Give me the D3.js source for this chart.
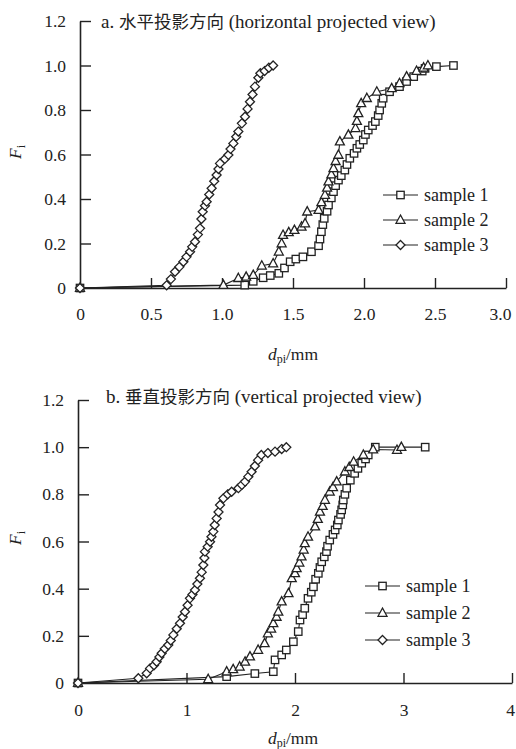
<!DOCTYPE html>
<html><head><meta charset="utf-8">
<script src="https://cdn.jsdelivr.net/npm/d3@7"></script>
<style>
body{margin:0;background:#fff;}
svg text{font-family:"Liberation Serif","Tinos","Times New Roman",Times,serif,"Noto Sans CJK SC";fill:#222;}
</style></head>
<body><svg id="c" width="516" height="749"></svg>
<script>
// ---------- data ----------
const seriesNames = ["sample 1", "sample 2", "sample 3"];
const markerTypes = ["square", "triangle", "diamond"];

const topTitleParts = ["a. ", "水平投影方向", " (horizontal projected view)"];
const botTitleParts = ["b. ", "垂直投影方向", " (vertical projected view)"];

const topXTicks = [0, 0.5, 1.0, 1.5, 2.0, 2.5, 3.0];
const topXTickLabels = ["0", "0.5", "1.0", "1.5", "2.0", "2.5", "3.0"];
const botXTicks = [0, 1, 2, 3, 4];
const botXTickLabels = ["0", "1", "2", "3", "4"];
const yTicks = [0, 0.2, 0.4, 0.6, 0.8, 1.0, 1.2];
const yTickLabels = ["0", "0.2", "0.4", "0.6", "0.8", "1.0", "1.2"];

// panel a (horizontal projected view)
const topSample1 = [[0,0],[1.16,0.013],[1.22,0.03],[1.29,0.046],[1.34,0.056],[1.40,0.066],[1.44,0.09],[1.48,0.118],[1.52,0.13],[1.57,0.14],[1.63,0.163],[1.68,0.19],[1.69,0.22],[1.70,0.253],[1.71,0.285],[1.72,0.313],[1.74,0.345],[1.75,0.373],[1.77,0.405],[1.785,0.433],[1.80,0.46],[1.82,0.485],[1.84,0.505],[1.865,0.53],[1.88,0.555],[1.90,0.583],[1.93,0.605],[1.95,0.628],[1.97,0.645],[1.995,0.665],[2.01,0.69],[2.03,0.71],[2.06,0.73],[2.08,0.748],[2.10,0.775],[2.11,0.80],[2.125,0.83],[2.135,0.853],[2.18,0.882],[2.25,0.905],[2.30,0.928],[2.35,0.95],[2.41,0.975],[2.43,0.987],[2.51,0.995],[2.63,1.0]];
const topSample2 = [[0,0],[1.01,0.013],[1.115,0.044],[1.17,0.05],[1.22,0.058],[1.28,0.10],[1.36,0.11],[1.40,0.163],[1.42,0.20],[1.43,0.238],[1.47,0.25],[1.51,0.26],[1.56,0.275],[1.585,0.29],[1.60,0.343],[1.68,0.35],[1.70,0.385],[1.725,0.418],[1.74,0.45],[1.75,0.478],[1.77,0.51],[1.785,0.538],[1.80,0.57],[1.82,0.598],[1.83,0.658],[1.89,0.688],[1.94,0.718],[1.95,0.75],[1.96,0.785],[1.98,0.83],[2.02,0.853],[2.09,0.882],[2.195,0.897],[2.25,0.92],[2.30,0.95],[2.37,0.975],[2.42,0.99],[2.45,1.0]];
const topSample3 = [[0,0],[0.61,0.012],[0.64,0.04],[0.669,0.073],[0.70,0.095],[0.728,0.118],[0.75,0.14],[0.775,0.163],[0.79,0.185],[0.81,0.208],[0.83,0.24],[0.845,0.268],[0.855,0.31],[0.864,0.343],[0.88,0.37],[0.892,0.388],[0.91,0.42],[0.927,0.448],[0.945,0.48],[0.962,0.508],[0.975,0.535],[0.986,0.56],[1.02,0.58],[1.045,0.598],[1.06,0.625],[1.08,0.65],[1.10,0.68],[1.115,0.703],[1.14,0.74],[1.162,0.77],[1.18,0.805],[1.197,0.837],[1.215,0.87],[1.232,0.905],[1.256,0.945],[1.27,0.965],[1.30,0.975],[1.33,0.99],[1.36,1.0]];

// panel b (vertical projected view)
const botSample1 = [[0,0],[1.37,0.027],[1.63,0.04],[1.80,0.048],[1.816,0.098],[1.877,0.119],[1.92,0.14],[1.985,0.175],[2.03,0.218],[2.046,0.267],[2.07,0.29],[2.09,0.317],[2.12,0.359],[2.15,0.385],[2.17,0.408],[2.19,0.44],[2.215,0.465],[2.23,0.49],[2.246,0.514],[2.27,0.535],[2.29,0.557],[2.30,0.58],[2.32,0.606],[2.35,0.63],[2.37,0.649],[2.39,0.67],[2.40,0.691],[2.42,0.715],[2.43,0.734],[2.44,0.755],[2.445,0.776],[2.46,0.80],[2.476,0.826],[2.51,0.86],[2.55,0.889],[2.58,0.91],[2.615,0.932],[2.65,0.95],[2.675,0.967],[2.74,1.0],[3.20,1.0]];
const botSample2 = [[0,0],[1.20,0.016],[1.37,0.048],[1.43,0.058],[1.49,0.069],[1.54,0.09],[1.585,0.112],[1.66,0.14],[1.72,0.168],[1.75,0.21],[1.78,0.23],[1.80,0.253],[1.83,0.28],[1.846,0.302],[1.877,0.345],[1.94,0.38],[1.97,0.444],[2.00,0.465],[2.015,0.486],[2.04,0.51],[2.06,0.536],[2.08,0.565],[2.09,0.592],[2.12,0.62],[2.185,0.663],[2.21,0.695],[2.23,0.726],[2.255,0.75],[2.276,0.776],[2.32,0.811],[2.35,0.83],[2.384,0.854],[2.46,0.896],[2.50,0.915],[2.54,0.938],[2.63,0.967],[2.72,0.99],[2.94,0.988],[2.98,1.0]];
const botSample3 = [[0,0],[0.556,0.02],[0.633,0.041],[0.664,0.062],[0.70,0.075],[0.725,0.09],[0.75,0.11],[0.771,0.126],[0.80,0.145],[0.832,0.161],[0.855,0.18],[0.879,0.204],[0.91,0.23],[0.94,0.253],[0.965,0.28],[0.986,0.302],[1.01,0.33],[1.032,0.359],[1.055,0.375],[1.078,0.394],[1.10,0.42],[1.124,0.444],[1.14,0.47],[1.155,0.50],[1.165,0.53],[1.17,0.557],[1.195,0.578],[1.217,0.599],[1.23,0.62],[1.247,0.642],[1.26,0.67],[1.278,0.698],[1.295,0.725],[1.309,0.755],[1.34,0.783],[1.38,0.80],[1.416,0.811],[1.478,0.826],[1.51,0.84],[1.54,0.854],[1.57,0.875],[1.60,0.896],[1.63,0.92],[1.66,0.945],[1.69,0.967],[1.75,0.975],[1.816,0.981],[1.877,0.992],[1.92,1.0]];

// ---------- drawing ----------
const svg = d3.select("#c");
const ink = "#222";
const fontSize = 17.5;

function marker(g, type, x, y) {
  if (type === "square") {
    g.append("rect").attr("x", x - 3.7).attr("y", y - 3.7).attr("width", 7.4).attr("height", 7.4)
      .attr("fill", "#fff").attr("stroke", ink).attr("stroke-width", 1.3);
  } else if (type === "triangle") {
    g.append("path").attr("d", `M${x},${y-5}L${x+4.5},${y+3.3}L${x-4.5},${y+3.3}Z`)
      .attr("fill", "#fff").attr("stroke", ink).attr("stroke-width", 1.3);
  } else {
    g.append("path").attr("d", `M${x},${y-4.5}L${x+4.5},${y}L${x},${y+4.5}L${x-4.5},${y}Z`)
      .attr("fill", "#fff").attr("stroke", ink).attr("stroke-width", 1.3);
  }
}

function panel(cfg) {
  const x = d3.scaleLinear().domain(cfg.xDomain).range(cfg.xRange);
  const y = d3.scaleLinear().domain([0, 1.2]).range(cfg.yRange);
  const g = svg.append("g");

  const xAxis = d3.axisBottom(x).tickValues(cfg.xTicks).tickSize(-10)
    .tickFormat((d, i) => cfg.xTickLabels[i]).tickSizeOuter(0).tickPadding(cfg.xPad);
  const gx = g.append("g").attr("transform", `translate(0,${cfg.yRange[0]})`).call(xAxis);
  gx.attr("font-family", null);
  gx.select(".domain").attr("stroke", ink).attr("stroke-width", 1.6);
  gx.selectAll(".tick line").attr("stroke", ink).attr("stroke-width", 1.4);
  gx.selectAll(".tick line").filter(d => d === cfg.xTicks[0]).remove();
  gx.selectAll("text").attr("font-size", fontSize).attr("fill", ink)
    .attr("dx", d => d === cfg.xTicks[cfg.xTicks.length - 1] ? cfg.lastLabelShift : 0);

  const yAxis = d3.axisLeft(y).tickValues(yTicks).tickSize(-11)
    .tickFormat((d, i) => yTickLabels[i]).tickSizeOuter(0).tickPadding(14);
  const gy = g.append("g").attr("transform", `translate(${cfg.xRange[0]},0)`).call(yAxis);
  gy.attr("font-family", null);
  gy.select(".domain").attr("stroke", ink).attr("stroke-width", 1.6);
  gy.selectAll(".tick line").attr("stroke", ink).attr("stroke-width", 1.4);
  gy.selectAll(".tick line").filter(d => d === 0).remove();
  gy.selectAll("text").attr("font-size", fontSize).attr("fill", ink);

  const t = g.append("text").attr("x", cfg.titleX).attr("y", cfg.titleY).attr("font-size", 19);
  t.append("tspan").text(cfg.title[0]);
  t.append("tspan").attr("font-size", 17.5).text(cfg.title[1]);
  t.append("tspan").text(cfg.title[2]);

  const line = d3.line().x(d => x(d[0])).y(d => y(d[1]));
  cfg.series.forEach((s, i) => {
    g.append("path").attr("d", line(s)).attr("fill", "none").attr("stroke", ink).attr("stroke-width", 1.1);
  });
  cfg.series.forEach((s, i) => {
    const mg = g.append("g");
    s.forEach(d => marker(mg, markerTypes[i], x(d[0]), y(d[1])));
  });

  seriesNames.forEach((name, i) => {
    const ly = cfg.legendY + i * cfg.legendGap;
    g.append("line").attr("x1", cfg.legendX).attr("x2", cfg.legendX + 35)
      .attr("y1", ly).attr("y2", ly).attr("stroke", ink).attr("stroke-width", 1.2);
    marker(g, markerTypes[i], cfg.legendX + 17.5, ly);
    g.append("text").attr("x", cfg.legendX + 41).attr("y", ly + 6)
      .attr("font-size", 18).text(name);
  });

  const yl = g.append("text").attr("transform", `translate(${cfg.yLabelX},${cfg.yLabelY}) rotate(-90)`)
    .attr("text-anchor", "middle").attr("font-size", fontSize);
  yl.append("tspan").attr("font-style", "italic").text("F");
  yl.append("tspan").attr("font-size", 12).attr("dy", 4).text("i");

  const xl = g.append("text").attr("x", cfg.xLabelX).attr("y", cfg.xLabelY)
    .attr("text-anchor", "middle").attr("font-size", fontSize);
  xl.append("tspan").attr("font-style", "italic").text("d");
  xl.append("tspan").attr("font-size", 12).attr("dy", 3).text("pi");
  xl.append("tspan").attr("dy", -3).text("/mm");
}

panel({
  xDomain: [0, 3], xRange: [80, 506], yRange: [288, 21],
  xTicks: topXTicks, xTickLabels: topXTickLabels, xPad: 20, lastLabelShift: -6,
  title: topTitleParts, titleX: 101, titleY: 28,
  series: [topSample1, topSample2, topSample3],
  legendX: 383, legendY: 195, legendGap: 25,
  yLabelX: 21, yLabelY: 152, xLabelX: 293, xLabelY: 360
});

panel({
  xDomain: [0, 4], xRange: [78, 512], yRange: [683, 400],
  xTicks: botXTicks, xTickLabels: botXTickLabels, xPad: 21, lastLabelShift: -2,
  title: botTitleParts, titleX: 106, titleY: 403,
  series: [botSample1, botSample2, botSample3],
  legendX: 365, legendY: 586, legendGap: 27,
  yLabelX: 21, yLabelY: 538, xLabelX: 293, xLabelY: 744
});
</script></body></html>
